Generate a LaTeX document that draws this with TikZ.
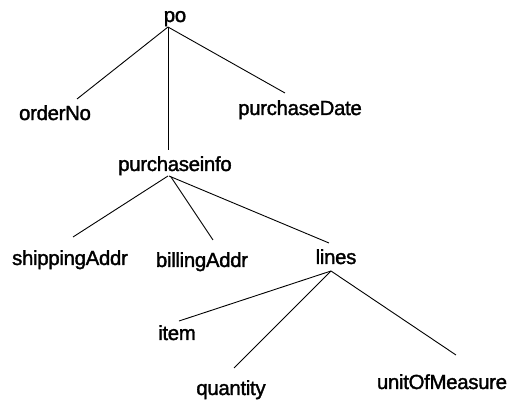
\documentclass[tikz,border=0pt]{standalone}
\usepackage{fontspec}
\setmainfont{Liberation Sans}
\newfontfamily\lblfont{Liberation Sans}[FakeBold=1.6,LetterSpace=-1.5]

\begin{document}
\begin{tikzpicture}[x=0.5pt,y=-0.5pt,
    elem/.style={inner sep=0pt,anchor=base,font=\lblfont\fontsize{10.2}{12}\selectfont},
    edge/.style={line width=0.45pt}]
      \useasboundingbox (0,0) rectangle (511,407);

      % root and first level
      \path node (po) at (175,22) [elem] {po};
      \path node (orderNo) at (55,120) [elem] {orderNo};
      \path node (purchaseDate) at (300,115) [elem] {purchaseDate};
      \path node (purchaseinfo) at (175,171) [elem] {purchaseinfo};

      % second level
      \path node (shippingAddr) at (70,265) [elem] {shippingAddr};
      \path node (billingAddr) at (202,267) [elem] {billingAddr};
      \path node (lines) at (336,264) [elem] {lines};

      % third level
      \path node (item) at (177,340) [elem] {item};
      \path node (quantity) at (231,395) [elem] {quantity};
      \path node (unitOfMeasure) at (442,389) [elem] {unitOfMeasure};

      % edges from po
      \draw[edge] ([shift={(-7,5)}]po.base) -- ([shift={(22,-21)}]orderNo.base);
      \draw[edge] ([shift={(-7,5)}]po.base) -- ([shift={(-7,-21)}]purchaseinfo.base);
      \draw[edge] ([shift={(-7,5)}]po.base) -- ([shift={(-15,-22)}]purchaseDate.base);

      % edges from purchaseinfo
      \draw[edge] ([shift={(-7,5)}]purchaseinfo.base) -- ([shift={(3,-28)}]shippingAddr.base);
      \draw[edge] ([shift={(-4,6)}]purchaseinfo.base) -- ([shift={(11,-27)}]billingAddr.base);
      \draw[edge] ([shift={(-6,5)}]purchaseinfo.base) -- ([shift={(-7,-21)}]lines.base);

      % edges from lines
      \draw[edge] ([shift={(-5,7)}]lines.base) -- ([shift={(2,-19)}]item.base);
      \draw[edge] ([shift={(-5,7)}]lines.base) -- ([shift={(3,-27)}]quantity.base);
      \draw[edge] ([shift={(-5,7)}]lines.base) -- ([shift={(14,-34)}]unitOfMeasure.base);
\end{tikzpicture}
\end{document}
